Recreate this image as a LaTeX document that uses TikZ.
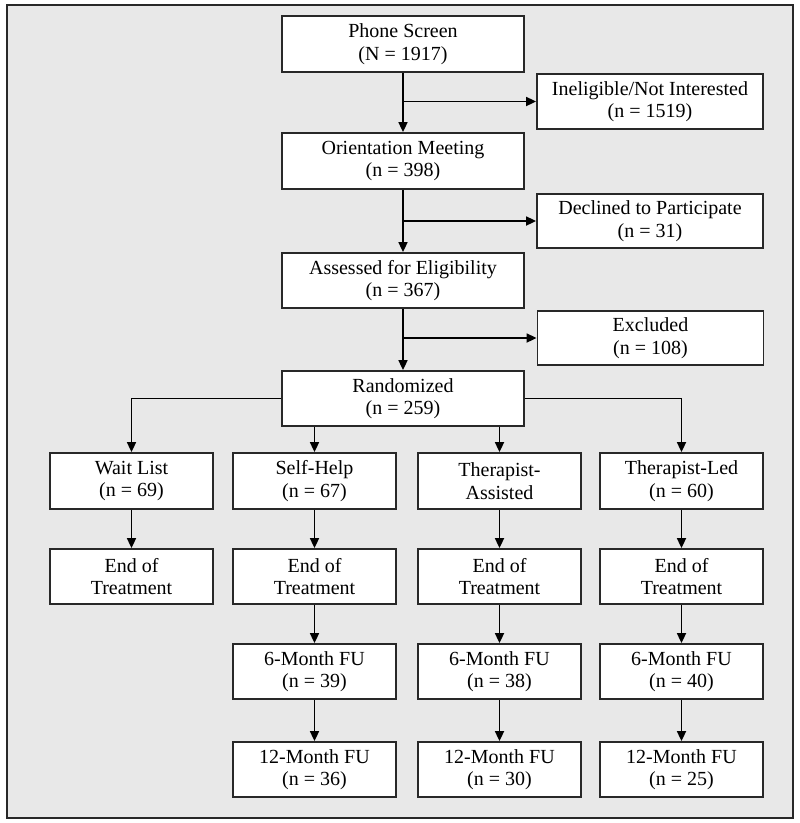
\documentclass[tikz,border=0pt]{standalone}
\usepackage{fontspec}
\setmainfont{Liberation Serif}
\usetikzlibrary{arrows.meta}
\definecolor{bgray}{RGB}{232,232,232}
\definecolor{edge}{RGB}{40,40,40}
\begin{document}
\begin{tikzpicture}[x=1pt,y=-1pt,
  box/.style={draw=edge, line width=1.8pt, fill=white, align=center, inner sep=0pt,
    font=\fontsize{20}{22.5}\selectfont, execute at begin node={\rule{0pt}{22pt}}},
  colbox/.style={box, minimum width=163pt, minimum height=55pt},
  midbox/.style={box, minimum width=242pt, minimum height=55pt},
  sidebox/.style={box, minimum width=226pt, minimum height=54pt},
  arr/.style={draw=black, line width=1.7pt, -{Triangle[length=10pt,width=9pt]}}]
\useasboundingbox (0,0) rectangle (800,823);
\draw[draw=edge, line width=1.8pt, fill=bgray] (7,5) rectangle (793,818);

\node[midbox, minimum height=56pt] (phone) at (403,44) {Phone Screen\\(N = 1917)};
\node[midbox, minimum height=56pt] (orient) at (403,161) {Orientation Meeting\\(n = 398)};
\node[midbox] (assess) at (403,280.5) {Assessed for Eligibility\\(n = 367)};
\node[midbox] (rand) at (403,398.5) {Randomized\\(n = 259)};

\node[sidebox, minimum height=55pt] (inel) at (650,101.5) {Ineligible/Not Interested\\(n = 1519)};
\node[sidebox] (decl) at (650,221) {Declined to Participate\\(n = 31)};
\node[sidebox] (excl) at (650.5,338) {Excluded\\(n = 108)};

\node[colbox, minimum height=56pt] (wl) at (131.5,481) {Wait List\\(n = 69)};
\node[colbox, minimum height=56pt] (sh) at (314.5,481) {Self-Help\\(n = 67)};
\node[colbox, minimum height=56pt] (ta) at (499.5,481) {Therapist-\\Assisted};
\node[colbox, minimum height=56pt] (tl) at (681.5,481) {Therapist-Led\\(n = 60)};

\node[colbox] (wle) at (131.5,576.5) {End of\\Treatment};
\node[colbox] (she) at (314.5,576.5) {End of\\Treatment};
\node[colbox] (tae) at (499.5,576.5) {End of\\Treatment};
\node[colbox] (tle) at (681.5,576.5) {End of\\Treatment};

\node[colbox] (sh6) at (314.5,671.5) {6-Month FU\\(n = 39)};
\node[colbox] (ta6) at (499.5,671.5) {6-Month FU\\(n = 38)};
\node[colbox] (tl6) at (681.5,671.5) {6-Month FU\\(n = 40)};

\node[colbox] (sh12) at (314.5,769.5) {12-Month FU\\(n = 36)};
\node[colbox] (ta12) at (499.5,769.5) {12-Month FU\\(n = 30)};
\node[colbox] (tl12) at (681.5,769.5) {12-Month FU\\(n = 25)};

\draw[arr] (phone) -- (orient);
\draw[arr] (orient) -- (assess);
\draw[arr] (assess) -- (rand);
\draw[arr] (phone.south |- inel.west) -- (inel.west);
\draw[arr] (orient.south |- decl.west) -- (decl.west);
\draw[arr] (assess.south |- excl.west) -- (excl.west);

\draw[arr] (rand.west) -| (wl.north);
\draw[arr] (rand.east) -| (tl.north);
\draw[arr] (rand.south -| sh.north) -- (sh.north);
\draw[arr] (rand.south -| ta.north) -- (ta.north);

\draw[arr] (wl) -- (wle);
\draw[arr] (sh) -- (she);
\draw[arr] (ta) -- (tae);
\draw[arr] (tl) -- (tle);
\draw[arr] (she) -- (sh6);
\draw[arr] (tae) -- (ta6);
\draw[arr] (tle) -- (tl6);
\draw[arr] (sh6) -- (sh12);
\draw[arr] (ta6) -- (ta12);
\draw[arr] (tl6) -- (tl12);
\end{tikzpicture}
\end{document}
